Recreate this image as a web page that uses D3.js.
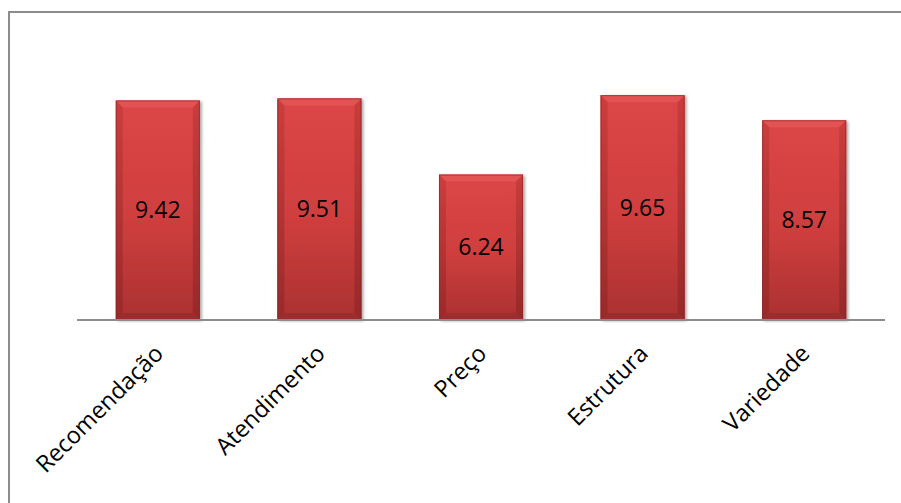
<!DOCTYPE html>
<html>
<head>
<meta charset="utf-8">
<script src="https://cdn.jsdelivr.net/npm/d3@7"></script>
<style>
  html, body { margin: 0; padding: 0; background: #ffffff; }
  svg { display: block; }
</style>
</head>
<body>
<svg id="chart" width="901" height="503"></svg>
<script>
// Scores by attribute
const categories = ["Recomendação", "Atendimento", "Preço", "Estrutura", "Variedade"];
const values = [9.42, 9.51, 6.24, 9.65, 8.57];

const W = 901, H = 503;
const svg = d3.select("#chart");

// Chart frame (clipped by the page on right and bottom)
svg.append("rect")
  .attr("x", 9).attr("y", 12)
  .attr("width", W + 20).attr("height", H + 20)
  .attr("fill", "#ffffff")
  .attr("stroke", "#8c8c8c").attr("stroke-width", 2);

const plot = { left: 77, right: 885, top: 87, bottom: 320 };

const x = d3.scaleBand()
  .domain(categories)
  .range([plot.left, plot.right])
  .paddingInner(0.48)
  .paddingOuter(0.24);

const y = d3.scaleLinear()
  .domain([0, 10])
  .range([plot.bottom, plot.top]);

const defs = svg.append("defs");

const body = defs.append("linearGradient")
  .attr("id", "barBody").attr("x1", 0).attr("y1", 0).attr("x2", 0).attr("y2", 1);
body.append("stop").attr("offset", "0%").attr("stop-color", "#dc4646");
body.append("stop").attr("offset", "55%").attr("stop-color", "#cf3e3e");
body.append("stop").attr("offset", "100%").attr("stop-color", "#aa3131");

const side = defs.append("linearGradient")
  .attr("id", "barSide").attr("x1", 0).attr("y1", 0).attr("x2", 0).attr("y2", 1);
side.append("stop").attr("offset", "0%").attr("stop-color", "#c83c3c");
side.append("stop").attr("offset", "100%").attr("stop-color", "#962828");

const shadow = defs.append("filter").attr("id", "shadow")
  .attr("x", "-20%").attr("y", "-10%").attr("width", "140%").attr("height", "120%");
shadow.append("feGaussianBlur").attr("in", "SourceAlpha").attr("stdDeviation", 1.6);
shadow.append("feOffset").attr("dx", 2).attr("dy", 1).attr("result", "b");
shadow.append("feComponentTransfer").append("feFuncA").attr("type", "linear").attr("slope", 0.35);
const merge = shadow.append("feMerge");
merge.append("feMergeNode");
merge.append("feMergeNode").attr("in", "SourceGraphic");

const bev = 7;
const bars = svg.selectAll("g.bar")
  .data(categories.map((c, i) => ({ c, v: values[i] })))
  .join("g").attr("class", "bar");

bars.each(function(d) {
  const g = d3.select(this);
  const x0 = x(d.c), x1 = x0 + x.bandwidth();
  const y0 = y(d.v), y1 = y(0);
  const base = g.append("g").attr("filter", "url(#shadow)");
  base.append("rect")
    .attr("x", x0).attr("y", y0)
    .attr("width", x1 - x0).attr("height", y1 - y0)
    .attr("fill", "url(#barBody)");
  // bevel: top
  g.append("path")
    .attr("d", `M${x0},${y0}L${x1},${y0}L${x1 - bev},${y0 + bev}L${x0 + bev},${y0 + bev}Z`)
    .attr("fill", "#e45353");
  // bevel: left
  g.append("path")
    .attr("d", `M${x0},${y0}L${x0 + bev},${y0 + bev}L${x0 + bev},${y1 - bev}L${x0},${y1}Z`)
    .attr("fill", "url(#barSide)").attr("opacity", 0.85);
  // bevel: right
  g.append("path")
    .attr("d", `M${x1},${y0}L${x1 - bev},${y0 + bev}L${x1 - bev},${y1 - bev}L${x1},${y1}Z`)
    .attr("fill", "url(#barSide)").attr("opacity", 0.95);
  // bevel: bottom
  g.append("path")
    .attr("d", `M${x0},${y1}L${x0 + bev},${y1 - bev}L${x1 - bev},${y1 - bev}L${x1},${y1}Z`)
    .attr("fill", "#9c2b2b").attr("opacity", 0.8);
  g.append("rect")
    .attr("x", x0 + 0.5).attr("y", y0 + 0.5)
    .attr("width", x1 - x0 - 1).attr("height", y1 - y0 - 1)
    .attr("fill", "none").attr("stroke", "#8a2424").attr("stroke-opacity", 0.6);

  // value label in the middle of the bar
  g.append("text")
    .attr("x", (x0 + x1) / 2)
    .attr("y", (y0 + y1) / 2)
    .attr("dy", "0.35em")
    .attr("text-anchor", "middle")
    .attr("font-family", "'Open Sans', sans-serif")
    .attr("font-size", 23)
    .attr("fill", "#000000")
    .text(d3.format(".2f")(d.v));
});

// Category axis
const xAxis = svg.append("g")
  .attr("transform", `translate(0,${plot.bottom})`)
  .call(d3.axisBottom(x).tickSize(0).tickPadding(0));
xAxis.select(".domain")
  .attr("stroke", "#8c8c8c").attr("stroke-width", 2)
  .attr("d", `M${plot.left},0H${plot.right}`);
xAxis.selectAll(".tick text")
  .attr("font-family", "'Open Sans', sans-serif")
  .attr("font-size", 23.5)
  .attr("fill", "#000000")
  .attr("text-anchor", "end")
  .attr("dy", 0)
  .attr("transform", "translate(7,35) rotate(-45)")
  .attr("y", 0).attr("x", 0);
</script>
</body>
</html>
